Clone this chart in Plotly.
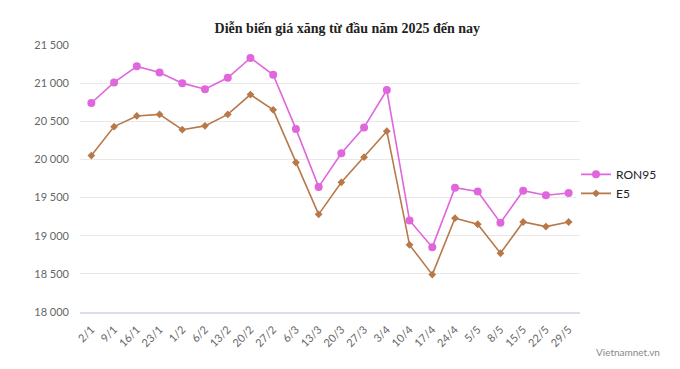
import plotly.graph_objects as go

dates = ["2/1", "9/1", "16/1", "23/1", "1/2", "6/2", "13/2", "20/2", "27/2", "6/3", "13/3",
         "20/3", "27/3", "3/4", "10/4", "17/4", "24/4", "5/5", "8/5", "15/5", "22/5", "29/5"]
ron95 = [20740, 21010, 21220, 21140, 21000, 20920, 21070, 21330, 21110, 20400, 19640,
         20080, 20420, 20910, 19200, 18850, 19630, 19580, 19170, 19590, 19530, 19560]
e5 = [20050, 20430, 20570, 20590, 20390, 20440, 20590, 20850, 20650, 19960, 19280,
      19700, 20030, 20370, 18880, 18490, 19230, 19150, 18770, 19180, 19120, 19180]

fig = go.Figure()
fig.add_trace(go.Scatter(x=dates, y=ron95, name="RON95", mode="lines+markers",
                         line=dict(color="#E066DC", width=1.6),
                         marker=dict(symbol="circle", size=8, color="#E066DC")))
fig.add_trace(go.Scatter(x=dates, y=e5, name="E5", mode="lines+markers",
                         line=dict(color="#B8794A", width=1.6),
                         marker=dict(symbol="diamond", size=6, color="#B8794A")))

fig.update_layout(
    width=672, height=361,
    margin=dict(l=72, r=100, t=37, b=57, autoexpand=False),
    paper_bgcolor="white", plot_bgcolor="white",
    separators=". ",
    title=dict(text="<b>Diễn biến giá xăng từ đầu năm 2025 đến nay</b>",
               x=0.505, xref="container", y=0.945, yanchor="middle",
               font=dict(family="Liberation Serif", size=14, color="#222")),
    xaxis=dict(type="category", tickangle=-45, showgrid=False, automargin=False,
               range=[-0.5, len(dates) - 0.5],
               tickfont=dict(family="Lato", size=11, color="#666"),
               showline=True, linecolor="#dcdcee", linewidth=2, ticks="",
               ticklabelstandoff=5),
    yaxis=dict(range=[18000, 21500], dtick=500, tickformat=",d", automargin=False,
               gridcolor="#e8e8e8", zeroline=False,
               tickfont=dict(family="Lato", size=11, color="#666"),
               ticklabelstandoff=10),
    legend=dict(x=0.992, y=0.48, xanchor="left", yanchor="middle",
                font=dict(family="Lato", size=12, color="#222"),
                tracegroupgap=0, itemwidth=30),
    showlegend=True,
)
fig.add_annotation(text="Vietnamnet.vn", xref="paper", yref="paper", x=1.027, y=-0.15,
                   xanchor="left", yanchor="middle", showarrow=False,
                   font=dict(family="Lato", size=10, color="#888"))

fig.write_html("out.html")
